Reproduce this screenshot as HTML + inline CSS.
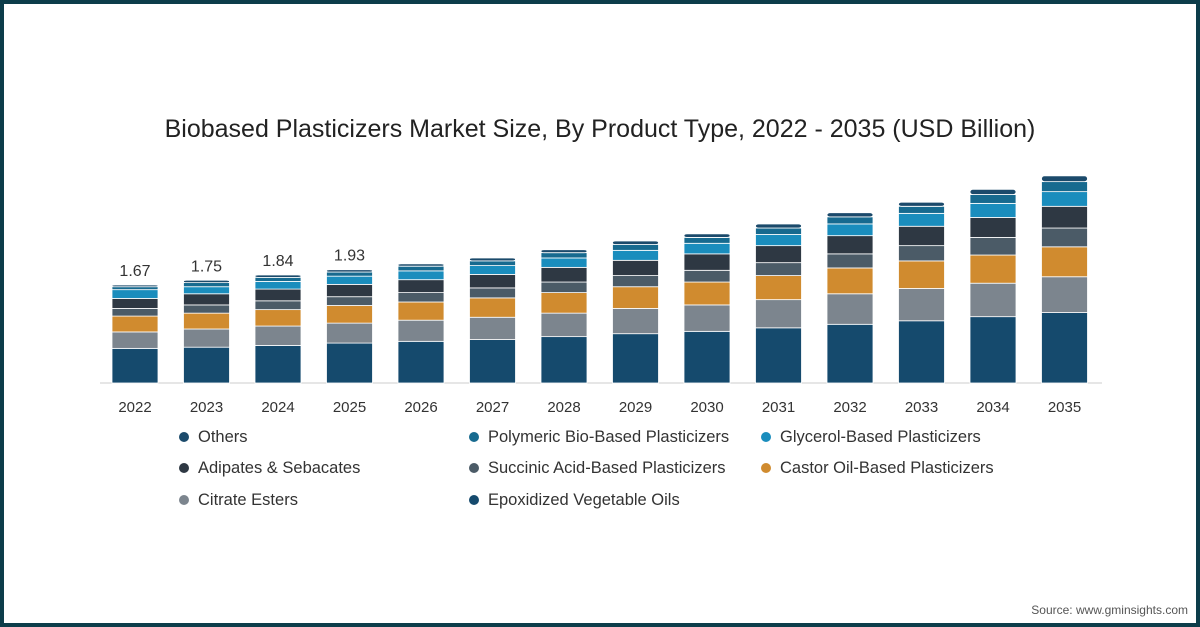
<!DOCTYPE html>
<html><head><meta charset="utf-8"><style>
html,body{margin:0;padding:0;}
body{width:1200px;height:627px;overflow:hidden;background:#fff;font-family:"Liberation Sans",sans-serif;}
#frame{position:absolute;left:0;top:0;width:1192px;height:619px;border:4px solid #0d3d4a;background:#fff;}
</style></head><body>
<div id="frame"></div>
<svg id="chart" width="1200" height="627" style="position:absolute;left:0;top:0">
<text x="600" y="137" text-anchor="middle" font-size="25" fill="#222" font-family="'Liberation Sans','DejaVu Sans',sans-serif">Biobased Plasticizers Market Size, By Product Type, 2022 - 2035 (USD Billion)</text>
<line x1="100" y1="383" x2="1102" y2="383" stroke="#ccc" stroke-width="1"/>
<g id="bars"></g>
<g id="xlabels"></g>
<g id="legend"></g>
<text x="1188" y="614" text-anchor="end" font-size="12" fill="#555">Source: www.gminsights.com</text>
</svg>
<script>
const years=["2022","2023","2024","2025","2026","2027","2028","2029","2030","2031","2032","2033","2034","2035"];
const epoxidized=[0.59,0.61,0.64,0.68,0.71,0.74,0.79,0.84,0.88,0.94,1.00,1.06,1.13,1.20];
const citrate=[0.28,0.31,0.33,0.34,0.36,0.38,0.40,0.43,0.45,0.48,0.52,0.55,0.57,0.61];
const castor=[0.27,0.27,0.28,0.30,0.31,0.33,0.35,0.37,0.39,0.41,0.44,0.47,0.48,0.51];
const succinic=[0.13,0.14,0.15,0.15,0.16,0.17,0.18,0.19,0.20,0.22,0.24,0.26,0.30,0.32];
const adipates=[0.17,0.19,0.20,0.21,0.22,0.23,0.25,0.26,0.28,0.29,0.31,0.33,0.34,0.37];
const glycerol=[0.15,0.12,0.13,0.14,0.15,0.15,0.16,0.17,0.18,0.19,0.20,0.22,0.24,0.25];
const polymeric=[0.05,0.07,0.07,0.07,0.08,0.08,0.09,0.10,0.10,0.11,0.12,0.12,0.15,0.17];
const others=[0.03,0.04,0.04,0.04,0.04,0.05,0.05,0.06,0.06,0.07,0.07,0.07,0.09,0.10];
const totalLabels=["1.67","1.75","1.84","1.93"];
const ns="http://www.w3.org/2000/svg";
const series=[
 {name:"Epoxidized Vegetable Oils",vals:epoxidized,color:"#154a6d"},
 {name:"Citrate Esters",vals:citrate,color:"#7c858e"},
 {name:"Castor Oil-Based Plasticizers",vals:castor,color:"#d08b2f"},
 {name:"Succinic Acid-Based Plasticizers",vals:succinic,color:"#4b5b67"},
 {name:"Adipates & Sebacates",vals:adipates,color:"#2e3843"},
 {name:"Glycerol-Based Plasticizers",vals:glycerol,color:"#1a8dbd"},
 {name:"Polymeric Bio-Based Plasticizers",vals:polymeric,color:"#176a8f"},
 {name:"Others",vals:others,color:"#1b4a6b"}
];
const base=383, ppu=58.7, x0=135, step=71.5, bw=46;
const y=v=>base-v*ppu, xc=i=>x0+i*step;
const bars=document.getElementById('bars');
years.forEach((yr,i)=>{
  let cum=0;
  series.forEach((s,k)=>{
    const v=s.vals[i];
    const r=document.createElementNS(ns,'rect');
    r.setAttribute('x',xc(i)-bw/2);
    r.setAttribute('y',y(cum+v));
    r.setAttribute('width',bw);
    r.setAttribute('height',Math.max(0,v*ppu));
    r.setAttribute('fill',s.color);
    r.setAttribute('stroke','#fff');
    r.setAttribute('stroke-width','0.8');
    if(k===series.length-1){r.setAttribute('rx','3');}
    
    
    bars.appendChild(r);
    cum+=v;
  });
  if(totalLabels[i]){
    const t=document.createElementNS(ns,'text');
    t.setAttribute('x',xc(i));t.setAttribute('y',y(cum)-9);
    t.setAttribute('text-anchor','middle');t.setAttribute('font-size','16');t.setAttribute('fill','#333');
    t.textContent=totalLabels[i];
    
    
    bars.appendChild(t);
  }
  const l=document.createElementNS(ns,'text');
  l.setAttribute('x',xc(i));l.setAttribute('y',412);
  l.setAttribute('text-anchor','middle');l.setAttribute('font-size','15');l.setAttribute('fill','#333');
  l.textContent=yr;
  
  
  document.getElementById('xlabels').appendChild(l);
});
const legendItems=[
 ["Others","#1b4a6b",184,436],["Polymeric Bio-Based Plasticizers","#176a8f",474,436],["Glycerol-Based Plasticizers","#1a8dbd",766,436],
 ["Adipates & Sebacates","#2e3843",184,467],["Succinic Acid-Based Plasticizers","#4b5b67",474,467],["Castor Oil-Based Plasticizers","#d08b2f",766,467],
 ["Citrate Esters","#7c858e",184,499],["Epoxidized Vegetable Oils","#154a6d",474,499]
];
const lg=document.getElementById('legend');
legendItems.forEach(([n,c,x,yy])=>{
  const g=document.createElementNS(ns,'g');
  
  
  const ci=document.createElementNS(ns,'circle');
  ci.setAttribute('cx',x);ci.setAttribute('cy',yy+1);ci.setAttribute('r',5);ci.setAttribute('fill',c);
  const t=document.createElementNS(ns,'text');
  t.setAttribute('x',x+14);t.setAttribute('y',yy+6);t.setAttribute('font-size','16.5');t.setAttribute('fill','#333');
  t.textContent=n;
  g.appendChild(ci);g.appendChild(t);lg.appendChild(g);
});
</script>
</body></html>
